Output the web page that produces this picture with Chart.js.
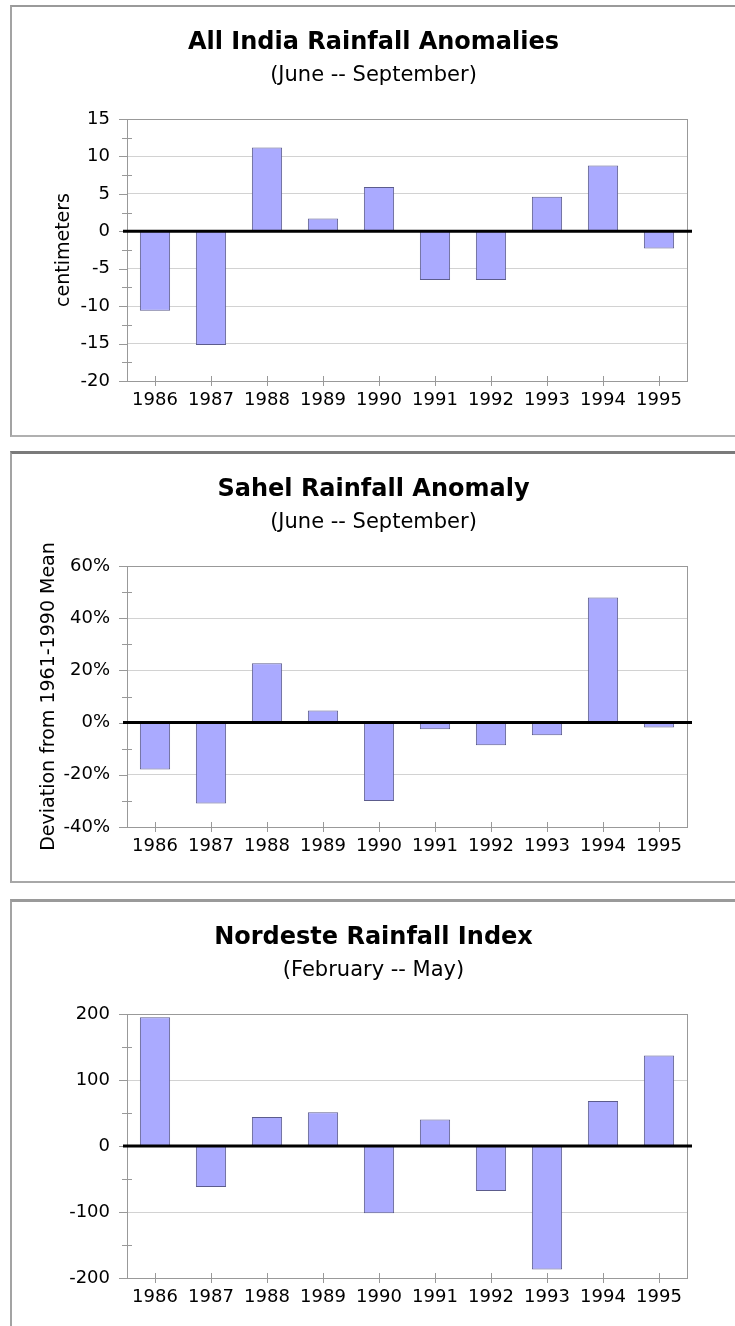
<!DOCTYPE html>
<html>
<head>
<meta charset="utf-8">
<script src="https://cdn.jsdelivr.net/npm/chart.js@4.4.1/dist/chart.umd.min.js"></script>
<style>
  html, body { margin: 0; padding: 0; background: #fff; overflow: hidden; }
  .panel { position: absolute; left: 10px; width: 740px; border-left: 2px solid #a3a3a3; background: #fff; }
  .box { position: relative; width: 723px; }
  #p1 { top: 5px; border-top: 2px solid #9a9a9a; border-bottom: 2px solid #b0b0b0; }
  #p2 { top: 451px; border-top: 3px solid #7a7a7a; border-bottom: 2px solid #a8a8a8; }
  #p3 { top: 899px; border-top: 3px solid #9a9a9a; }
</style>
</head>
<body>
<div class="panel" id="p1"><div class="box" style="height:428px"><canvas id="indiaChart"></canvas></div></div>
<div class="panel" id="p2"><div class="box" style="height:427px"><canvas id="sahelChart"></canvas></div></div>
<div class="panel" id="p3"><div class="box" style="height:430px"><canvas id="nordesteChart"></canvas></div></div>
<script>
// data
var years = ['1986', '1987', '1988', '1989', '1990', '1991', '1992', '1993', '1994', '1995'];
var indiaCm = [-10.6, -15.2, 11.2, 1.7, 5.9, -6.5, -6.5, 4.6, 8.8, -2.3];
var sahelPct = [-18, -31, 22.7, 4.6, -30, -2.5, -8.7, -4.8, 47.9, -1.9];
var nordesteIndex = [195, -62, 44, 51, -102, 40, -68, -187, 68, 137];

// axis ranges: [min, max, major step]
var indiaAxis = [-20, 15, 5];
var sahelAxis = [-40, 60, 20];
var nordesteAxis = [-200, 200, 100];

var FONT = 'DejaVu Sans';

// plot frame, tick marks and the heavy zero line
var framePlugin = {
    id: 'frame',
    afterDatasetsDraw: function (chart) {
        var ctx = chart.ctx;
        var a = chart.chartArea;
        var y = chart.scales.y;
        var x = chart.scales.x;
        var step = chart.options.scales.y.ticks.stepSize;
        ctx.save();
        ctx.strokeStyle = '#999';
        ctx.lineWidth = 1;
        ctx.strokeRect(Math.round(a.left) + 0.5, Math.round(a.top) + 0.5,
            Math.round(a.right - a.left), Math.round(a.bottom - a.top));
        ctx.beginPath();
        for (var v = y.min; v <= y.max + 1e-9; v += step) {
            var py = Math.round(y.getPixelForValue(v)) + 0.5;
            ctx.moveTo(a.left - 8, py);
            ctx.lineTo(a.left, py);
            if (v + step / 2 < y.max) {
                var my = Math.round(y.getPixelForValue(v + step / 2)) + 0.5;
                ctx.moveTo(a.left - 5, my);
                ctx.lineTo(a.left + 5, my);
            }
        }
        for (var i = 0; i < years.length; i++) {
            var px = Math.round(x.getPixelForValue(i)) + 0.5;
            ctx.moveTo(px, a.bottom - 5);
            ctx.lineTo(px, a.bottom + 5);
        }
        ctx.stroke();
        var zy = y.getPixelForValue(0);
        ctx.strokeStyle = '#000';
        ctx.lineWidth = 3;
        ctx.beginPath();
        ctx.moveTo(a.left - 4, zy);
        ctx.lineTo(a.right + 5, zy);
        ctx.stroke();
        ctx.restore();
    }
};

function makeChart(id, title, subtitle, values, axis, yTitle, yTitlePad, fmt) {
    var ctx = document.getElementById(id).getContext('2d');
    return new Chart(ctx, {
        type: 'bar',
        data: {
            labels: years,
            datasets: [{
                data: values,
                backgroundColor: '#aaaaff',
                borderColor: '#5c5c8c',
                borderWidth: 1,
                barPercentage: 0.54,
                categoryPercentage: 1
            }]
        },
        options: {
            responsive: true,
            maintainAspectRatio: false,
            animation: false,
            layout: { padding: 0 },
            plugins: {
                legend: { display: false },
                tooltip: { enabled: false },
                title: {
                    display: true,
                    text: title,
                    color: '#000',
                    font: { family: FONT, size: 24, weight: 'bold' },
                    padding: { top: 21, bottom: 0 }
                },
                subtitle: {
                    display: true,
                    text: subtitle,
                    color: '#000',
                    font: { family: FONT, size: 21 },
                    padding: { top: 6, bottom: 31 }
                }
            },
            scales: {
                x: {
                    grid: { display: false, drawTicks: false },
                    border: { display: false },
                    ticks: { color: '#000', font: { family: FONT, size: 18 }, padding: 9, maxRotation: 0 },
                    afterFit: function (s) { s.height = 54; }
                },
                y: {
                    min: axis[0],
                    max: axis[1],
                    grid: {
                        drawTicks: false,
                        color: function (c) { return c.tick && c.tick.value === 0 ? 'rgba(0,0,0,0)' : '#d2d2d2'; }
                    },
                    border: { display: false },
                    ticks: {
                        stepSize: axis[2],
                        color: '#000',
                        font: { family: FONT, size: 18 },
                        padding: 17,
                        callback: fmt
                    },
                    title: {
                        display: !!yTitle,
                        text: yTitle,
                        color: '#000',
                        font: { family: FONT, size: 19 },
                        padding: { top: yTitlePad, bottom: 0 }
                    },
                    afterFit: function (s) { s.width = 115; }
                },
                // empty right-hand axis, only reserves the margin right of the plot
                yRight: {
                    type: 'linear',
                    position: 'right',
                    grid: { display: false, drawTicks: false },
                    border: { display: false },
                    ticks: { display: false },
                    afterFit: function (s) { s.width = 48; }
                }
            }
        },
        plugins: [framePlugin]
    });
}

makeChart('indiaChart', 'All India Rainfall Anomalies', '(June -- September)',
    indiaCm, indiaAxis, 'centimeters', 41, function (v) { return v; });
makeChart('sahelChart', 'Sahel Rainfall Anomaly', '(June -- September)',
    sahelPct, sahelAxis, 'Deviation from 1961-1990 Mean', 26, function (v) { return v + '%'; });
makeChart('nordesteChart', 'Nordeste Rainfall Index', '(February -- May)',
    nordesteIndex, nordesteAxis, '', 0, function (v) { return v; });
</script>
</body>
</html>
